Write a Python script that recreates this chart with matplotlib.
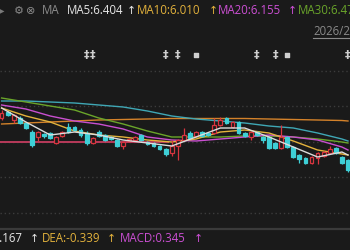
import numpy as np
import matplotlib
matplotlib.use("Agg")
import matplotlib.pyplot as plt
from matplotlib.lines import Line2D

plt.rcParams['font.family'] = ['Open Sans', 'DejaVu Sans']

BG = "#1a1a1a"
UP = "#d8353f"
DOWN = "#3ecfd6"

#
# daily candles (open, high, low, close)
#
opens = [7.64, 7.76, 7.60, 7.64, 7.54, 7.36, 7.26, 7.32, 7.34, 7.14,
         7.28, 7.46, 7.46, 7.40, 7.34, 7.14, 7.36, 7.30, 7.26, 7.20,
         7.08, 7.18, 7.20, 7.30, 7.16, 7.14, 7.08, 7.02, 6.94, 7.08,
         7.20, 7.34, 7.28, 7.36, 7.34, 7.34, 7.50, 7.64, 7.46, 7.56,
         7.34, 7.26, 7.36, 7.26, 7.26, 7.14, 7.04, 7.26, 7.06, 6.90,
         6.84, 6.74, 6.84, 6.88, 6.94, 7.04, 6.86, 6.80]
highs = [7.80, 7.78, 7.72, 7.68, 7.56, 7.40, 7.38, 7.34, 7.36, 7.28,
         7.38, 7.54, 7.48, 7.44, 7.38, 7.26, 7.40, 7.32, 7.28, 7.22,
         7.18, 7.24, 7.28, 7.32, 7.18, 7.16, 7.10, 7.04, 7.20, 7.22,
         7.44, 7.38, 7.38, 7.38, 7.36, 7.64, 7.66, 7.66, 7.58, 7.58,
         7.36, 7.38, 7.38, 7.28, 7.28, 7.16, 7.50, 7.28, 7.08, 6.92,
         6.86, 6.88, 6.96, 6.98, 7.08, 7.06, 6.88, 6.82]
lows = [7.60, 7.68, 7.54, 7.52, 7.42, 7.06, 7.18, 7.24, 7.22, 7.12,
        7.26, 7.34, 7.38, 7.26, 7.10, 7.12, 7.26, 7.18, 7.20, 7.06,
        7.02, 7.16, 7.18, 7.18, 7.10, 7.06, 7.00, 6.88, 6.88, 6.80,
        7.18, 7.22, 7.26, 7.26, 7.28, 7.32, 7.48, 7.52, 7.44, 7.32,
        7.26, 7.20, 7.28, 7.14, 7.02, 7.02, 7.02, 7.04, 6.84, 6.74,
        6.72, 6.72, 6.72, 6.86, 6.92, 6.92, 6.72, 6.56]
closes = [7.74, 7.70, 7.70, 7.54, 7.44, 7.10, 7.36, 7.28, 7.24, 7.26,
          7.36, 7.36, 7.40, 7.30, 7.14, 7.24, 7.28, 7.20, 7.22, 7.08,
          7.16, 7.22, 7.26, 7.20, 7.12, 7.08, 7.02, 6.92, 7.08, 7.20,
          7.30, 7.24, 7.36, 7.28, 7.30, 7.50, 7.60, 7.54, 7.56, 7.34,
          7.28, 7.36, 7.30, 7.20, 7.04, 7.04, 7.26, 7.06, 6.86, 6.82,
          6.74, 6.86, 6.94, 6.96, 7.02, 6.94, 6.74, 6.60]

#
# moving averages, read every 4th day
#
ma_idx = [0, 4, 8, 12, 16, 20, 24, 28, 32, 36, 40, 44, 48, 52, 56, 57]
ma5 = [7.84, 7.56, 7.30, 7.36, 7.30, 7.20, 7.14, 7.08, 7.26, 7.44, 7.44, 7.26, 7.06, 6.86, 6.96, 6.90]
ma10 = [7.84, 7.68, 7.56, 7.38, 7.30, 7.26, 7.20, 7.16, 7.22, 7.36, 7.40, 7.34, 7.18, 7.00, 6.92, 6.90]
ma20 = [7.90, 7.82, 7.68, 7.58, 7.52, 7.42, 7.26, 7.20, 7.18, 7.22, 7.26, 7.30, 7.26, 7.20, 7.06, 7.00]
ma30 = [8.04, 7.96, 7.88, 7.80, 7.64, 7.52, 7.38, 7.26, 7.26, 7.26, 7.28, 7.28, 7.26, 7.22, 7.16, 7.14]
ma60 = [7.98, 7.98, 7.96, 7.94, 7.90, 7.86, 7.78, 7.68, 7.62, 7.58, 7.54, 7.48, 7.44, 7.34, 7.22, 7.18]
ma120 = [7.52, 7.54, 7.56, 7.58, 7.60, 7.61, 7.62, 7.63, 7.63, 7.63, 7.63, 7.62, 7.61, 7.60, 7.59, 7.58]

level_price = 7.16
level_end = 27.5

sig_arrow = [14, 15, 27, 29, 42, 45, 57]
sig_square = [32, 47]

legend_top = [("MA5:6.404", "#e6e6e6"), ("MA10:6.010", "#e3b23c"),
              ("MA20:6.155", "#cc4fd4"), ("MA30:6.472", "#6aa52a")]
legend_bot = [("DIF:-0.167", "#e6e6e6"), ("DEA:-0.339", "#e3b23c"),
              ("MACD:0.345", "#cc4fd4")]

#
# figure
#
fig = plt.figure(figsize=(3.5, 2.5), dpi=100, facecolor=BG)
ax = fig.add_axes([0, 0, 1, 1], facecolor=BG)
ax.set_xlim(-0.263, 57.33)
ax.set_ylim(5.0, 10.0)
ax.axis("off")

# dotted grid
for g in np.arange(8.586, 5.7, -0.712):
    ax.axhline(g, color="#3c3c3c", lw=1.0, ls=(0, (1, 2)), zorder=0)
# separator for the MACD panel
ax.axhline(5.43, color="#3a3a3a", lw=1.6, zorder=0)

ax.hlines(level_price, -1, level_end, color="#b83a5a", lw=1.4, zorder=1)

# MA lines
ax.plot(ma_idx, ma120, color="#d4822a", lw=1.0, zorder=2)
ax.plot(ma_idx, ma60, color="#3fa7b5", lw=1.0, zorder=2)
ax.plot(ma_idx, ma30, color="#6aa52a", lw=1.0, zorder=2)
ax.plot(ma_idx, ma20, color="#c94fd0", lw=1.0, zorder=2)
ax.plot(ma_idx, ma10, color="#e3b23c", lw=1.0, zorder=2)

# candles
x = np.arange(len(opens))
o = np.array(opens)
c = np.array(closes)
up = c >= o
col = np.where(up, UP, DOWN)
ax.vlines(x, lows, highs, colors=col, lw=0.9, zorder=3)
ax.bar(x, np.abs(c - o), bottom=np.minimum(o, c), width=0.62,
       color=np.where(up, BG, DOWN), edgecolor=col, linewidth=0.9, zorder=4)

ax.plot(ma_idx, ma5, color="#dcdcdc", lw=1.0, zorder=5)

# signal marks
for i in sig_arrow:
    ax.text(i, 8.90, "‡", color="#cfcfcf", fontsize=8, fontweight="bold",
            ha="center", va="center", family=["DejaVu Sans"])
ax.scatter(sig_square, [8.90] * len(sig_square), marker="s", s=9,
           color="#cfcfcf", zorder=5)

#
# text rows
#
def fy(py):
    return 1 - py / 250.0

def fx(px):
    return px / 350.0

fs = 8.3
fig.text(fx(-3), fy(10.5), "▶", color="#7a7a7a", fontsize=7, va="center",
         family=["DejaVu Sans"])
fig.text(fx(14), fy(10.5), "⚙", color="#8a8a8a", fontsize=8, va="center",
         family=["DejaVu Sans"])
fig.text(fx(26), fy(10.5), "⊗", color="#8a8a8a", fontsize=8, va="center",
         family=["DejaVu Sans"])
fig.text(fx(42), fy(10.5), "MA", color="#8c8c8c", fontsize=fs, va="center")

top_x = [67, 137, 218, 298]
arr_x = [127, 209, 288]
for k, (s, cc) in enumerate(legend_top):
    fig.text(fx(top_x[k]), fy(10.5), s, color=cc, fontsize=fs, va="center")
    if k < len(arr_x):
        fig.text(fx(arr_x[k]), fy(10.5), "↑", color=cc, fontsize=fs - 0.5,
                 va="center", family=["DejaVu Sans"])

fig.text(fx(313), fy(31.5), "2026/2/13", color="#8a8a8a", fontsize=fs, va="center")
fig.add_artist(Line2D([fx(313), 1.0], [fy(37.5), fy(37.5)], color="#8a8a8a", lw=0.8))

bot_x = [23, 42, 120]
bot_arr = [30, 107, 194]
for k, (s, cc) in enumerate(legend_bot):
    fig.text(fx(bot_x[k]), fy(239), s, color=cc, fontsize=fs, va="center",
             ha="right" if k == 0 else "left")
    fig.text(fx(bot_arr[k]), fy(239), "↑", color=cc, fontsize=fs - 0.5,
             va="center", family=["DejaVu Sans"])

fig.savefig("out.png", dpi=100, facecolor=BG)
